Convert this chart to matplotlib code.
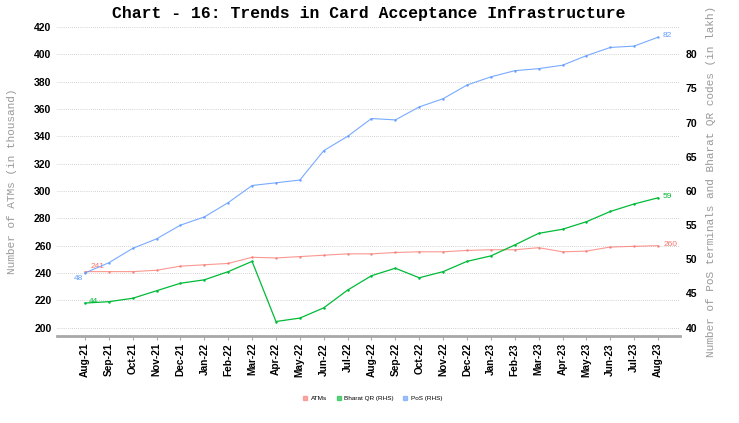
import matplotlib.pyplot as plt
from matplotlib.lines import Line2D

months = ["Aug-21", "Sep-21", "Oct-21", "Nov-21", "Dec-21", "Jan-22", "Feb-22",
          "Mar-22", "Apr-22", "May-22", "Jun-22", "Jul-22", "Aug-22", "Sep-22",
          "Oct-22", "Nov-22", "Dec-22", "Jan-23", "Feb-23", "Mar-23", "Apr-23",
          "May-23", "Jun-23", "Jul-23", "Aug-23"]

# ATMs, in thousand (left axis)
atms = [241, 241, 241, 242, 245, 246, 247, 251.5, 251, 252, 253, 254, 254,
        255, 255.5, 255.5, 256.5, 257, 257, 258.5, 255.5, 256, 259, 259.5, 260]
# Bharat QR, in lakh (right axis)
bharat_qr = [43.6, 43.8, 44.3, 45.4, 46.5, 47.0, 48.2, 49.7, 40.9, 41.4, 42.9,
             45.5, 47.6, 48.7, 47.3, 48.2, 49.7, 50.5, 52.1, 53.8, 54.4, 55.5,
             57.0, 58.1, 59.0]
# PoS, in lakh (right axis)
pos = [48.0, 49.5, 51.6, 53.0, 55.0, 56.2, 58.3, 60.8, 61.2, 61.6, 65.9, 68.0,
       70.6, 70.4, 72.3, 73.5, 75.5, 76.7, 77.6, 77.9, 78.4, 79.8, 81.0, 81.2,
       82.5]

red = "#F8766D"
green = "#00BA38"
blue = "#619CFF"

fig = plt.figure(figsize=(7.39, 4.23), dpi=100)
ax = fig.add_axes([57 / 739, 1 - 336 / 423, 623 / 739, 310 / 423])
ax2 = ax.twinx()

x = list(range(len(months)))
lo, hi = 193.9, 420.7
ax.set_ylim(lo, hi)
ax2.set_ylim((lo - 200) / 5 + 40, (hi - 200) / 5 + 40)
ax.set_xlim(-1.17, len(months) - 1 + 0.92)

ax.plot(x, atms, color=red, lw=0.8, marker="o", ms=0.8, alpha=0.75, zorder=3)
ax2.plot(x, bharat_qr, color=green, lw=0.9, marker="o", ms=0.8, zorder=3)
ax2.plot(x, pos, color=blue, lw=0.8, marker="o", ms=0.8, alpha=0.85, zorder=3)

# first / last value labels
lab = dict(fontsize=6, fontfamily="Liberation Sans", textcoords="offset points")
ax.annotate(f"{atms[0]:.0f}", (x[0], atms[0]), xytext=(4, 1.5), color=red, ha="left", va="bottom", **lab)
ax.annotate(f"{atms[-1]:.0f}", (x[-1], atms[-1]), xytext=(4, 0.5), color=red, ha="left", va="center", **lab)
ax2.annotate(f"{bharat_qr[0]:.0f}", (x[0], bharat_qr[0]), xytext=(3, 1), color=green, ha="left", va="center", **lab)
ax2.annotate(f"{bharat_qr[-1]:.0f}", (x[-1], bharat_qr[-1]), xytext=(3, 1), color=green, ha="left", va="center", **lab)
ax2.annotate(f"{pos[0]:.0f}", (x[0], pos[0]), xytext=(-1.5, -4), color=blue, ha="right", va="center", **lab)
ax2.annotate(f"{pos[-1]:.0f}", (x[-1], pos[-1]), xytext=(3, 1), color=blue, ha="left", va="center", **lab)

ax.set_yticks(range(200, 421, 20))
ax2.set_yticks(range(40, 81, 5))
ax.set_xticks(x)
ax.set_xticklabels(months, rotation=90, fontsize=7.3, fontweight="bold",
                   fontfamily="Liberation Sans")
for t in ax.get_yticklabels():
    t.set_fontsize(7.5); t.set_fontweight("bold"); t.set_fontfamily("Liberation Sans")
for t in ax2.get_yticklabels():
    t.set_fontsize(7.5); t.set_fontweight("bold"); t.set_fontfamily("Liberation Sans")

ax.grid(axis="y", linestyle=(0, (1, 2)), color="#aaaaaa", lw=0.5)
for a in (ax, ax2):
    for s in ("top", "left", "right"):
        a.spines[s].set_visible(False)
ax2.spines["bottom"].set_visible(False)
ax.spines["bottom"].set_color("#a8a8a8")
ax.spines["bottom"].set_linewidth(2)
ax.tick_params(axis="x", length=3, color="#a8a8a8", width=0.8, pad=2)
ax.tick_params(axis="y", length=0, pad=4)
ax2.tick_params(axis="y", length=0, pad=4)

ax.set_ylabel("Number of ATMs (in thousand)", fontfamily="Liberation Mono",
              fontsize=8, color="#999999", labelpad=12)
ax2.set_ylabel("Number of PoS terminals and Bharat QR codes (in lakh)",
               fontfamily="Liberation Mono", fontsize=8, color="#999999", labelpad=6)
ax.set_title("Chart - 16: Trends in Card Acceptance Infrastructure",
             fontfamily="Liberation Mono", fontweight="bold", fontsize=11.8, pad=6)

handles = [Line2D([], [], color=c, marker="s", ms=3, lw=0, alpha=0.6)
           for c in (red, green, blue)]
fig.legend(handles, ["ATMs", "Bharat QR (RHS)", "PoS (RHS)"], loc="center",
           bbox_to_anchor=(372 / 739, 1 - 398 / 423), ncol=3, frameon=False,
           prop={"family": "Liberation Sans", "size": 4.6},
           handletextpad=0.3, columnspacing=1.2, handlelength=1.2)

fig.savefig("out.png", dpi=100)
